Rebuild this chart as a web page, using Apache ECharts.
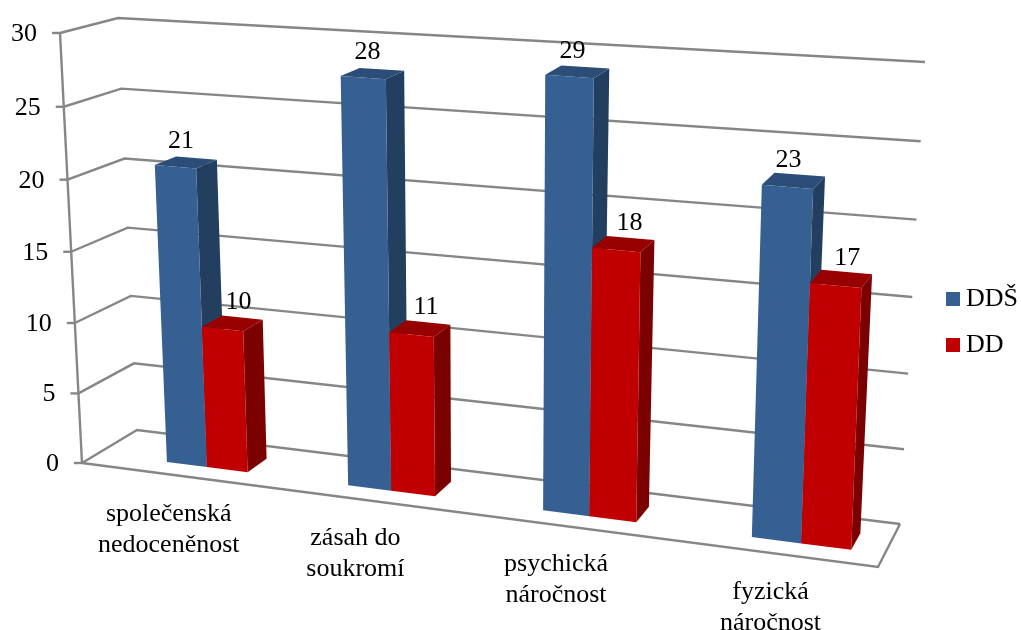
<!DOCTYPE html>
<html><head><meta charset="utf-8">
<style>html,body{margin:0;padding:0;background:#fff}#c{width:1021px;height:630px}</style>
<script src="https://cdn.jsdelivr.net/npm/echarts@6/dist/echarts.min.js"></script>
</head><body><div id="c"></div>
<script>
const categories = ['společenská\nnedoceněnost','zásah do\nsoukromí','psychická\nnáročnost','fyzická\nnáročnost'];
const ddsValues = [21,28,29,23];
const ddValues = [10,11,18,17];
const yTicks = [0,5,10,15,20,25,30];

// projected corners of the 3-D chart box: F front, B back; first digit u (left/right), second v (bottom/top)
const F00=[82,463],F10=[878,567],F01=[60,33],F11=[896,92];
const B00=[137,430],B10=[900,524],B01=[118,18],B11=[925,62];
const G={left:60,top:33,width:818,height:430};
const FONT='"Liberation Serif","Times New Roman",serif';
const BAR_Z0=0.3,BAR_Z1=0.69,BAR_W=0.0568;
const warp=u=>0.0272+0.868*u+0.14*u*u;      // perspective along the width
const warpV=v=>0.965*v+0.035*v*v;           // perspective along the height
function P(u,v,w){
  const bil=(a,b,c,d,i)=>(1-u)*(1-v)*a[i]+u*(1-v)*b[i]+(1-u)*v*c[i]+u*v*d[i];
  return [0,1].map(i=>(1-w)*bil(F00,F10,F01,F11,i)+w*bil(B00,B10,B01,B11,i));
}
const uOf=(api,i)=>(api.coord([i,0])[0]-G.left)/G.width;
const vOf=(api,val)=>warpV((G.top+G.height-api.coord([0,val])[1])/G.height);
const line=(pts)=>({type:'polyline',shape:{points:pts},style:{stroke:'#868686',lineWidth:2.4,fill:null,lineJoin:'miter'}});
const poly=(pts,fill)=>({type:'polygon',shape:{points:pts},style:{fill:fill}});

function renderFrame(params,api){
  const val=api.value(1), v=vOf(api,val), c=[];
  const a=P(0,v,0), b=P(0,v,1), d=P(1,v,1);
  c.push(line([a,b,d]));
  c.push(line([[a[0]-8,a[1]],a]));
  c.push({type:'text',style:{text:String(val),x:a[0]-23,y:a[1]+1,font:'26px '+FONT,fill:'#000',align:'right',verticalAlign:'middle'}});
  if(val===0){
    c.push(line([P(0,0,0),P(1,0,0),P(1,0,1)]));
    c.push(line([P(0,0,0),P(0,1,0)]));
  }
  return {type:'group',children:c};
}
function renderCat(params,api){
  const i=api.value(0), p=P(warp(uOf(api,i)),0,0);
  return {type:'text',style:{text:categories[i],x:p[0]-23,y:p[1]+52,font:'26px '+FONT,fill:'#000',align:'center',verticalAlign:'middle',lineHeight:31}};
}
function makeBar(side,colors){
  return function(params,api){
    const i=api.value(0),val=api.value(1),uc=uOf(api,i),v=vOf(api,val);
    const u0=warp(side<0?uc-BAR_W:uc),u1=warp(side<0?uc:uc+BAR_W);
    const a=P(u0,0,BAR_Z0),b=P(u1,0,BAR_Z0),cc=P(u0,v,BAR_Z0),d=P(u1,v,BAR_Z0);
    const e=P(u1,0,BAR_Z1),f=P(u1,v,BAR_Z1),g=P(u0,v,BAR_Z1);
    const t=[(cc[0]+d[0]+f[0]+g[0])/4,(cc[1]+d[1]+f[1]+g[1])/4];
    return {type:'group',children:[
      poly([b,e,f,d],colors[1]),
      poly([cc,d,f,g],colors[2]),
      poly([a,b,d,cc],colors[0]),
      {type:'text',style:{text:String(val),x:t[0]+(side<0?-5:6),y:t[1]-21,font:'26px '+FONT,fill:'#000',align:'center',verticalAlign:'middle'},z2:5}
    ]};
  };
}
const blue=['#376092','#233F5F','#2C4D77'],red=['#C00000','#7B0000','#980000'];
const chart=echarts.init(document.getElementById('c'),null,{renderer:'canvas'});
chart.setOption({
  animation:false,backgroundColor:'#fff',
  grid:{left:G.left,top:G.top,width:G.width,height:G.height},
  xAxis:{type:'category',data:categories,show:false},
  yAxis:{type:'value',min:0,max:30,interval:5,show:false},
  legend:{data:['DDŠ','DD'],orient:'vertical',left:946,top:286,padding:0,icon:'rect',itemWidth:14,itemHeight:14,itemGap:20,
    textStyle:{fontFamily:FONT,fontSize:26,color:'#000',lineHeight:26,padding:[0,0,0,1]}},
  series:[
    {type:'custom',name:'frame',silent:true,clip:false,renderItem:renderFrame,encode:{x:0,y:1},data:yTicks.map(t=>[0,t]),z:1},
    {type:'custom',name:'cats',silent:true,clip:false,renderItem:renderCat,encode:{x:0,y:1},data:categories.map((c,i)=>[i,0]),z:1},
    {type:'custom',name:'DDŠ',silent:true,clip:false,renderItem:makeBar(-1,blue),itemStyle:{color:blue[0]},encode:{x:0,y:1},data:ddsValues.map((v,i)=>[i,v]),z:2},
    {type:'custom',name:'DD',silent:true,clip:false,renderItem:makeBar(1,red),itemStyle:{color:red[0]},encode:{x:0,y:1},data:ddValues.map((v,i)=>[i,v]),z:3}
  ]
});
</script></body></html>
